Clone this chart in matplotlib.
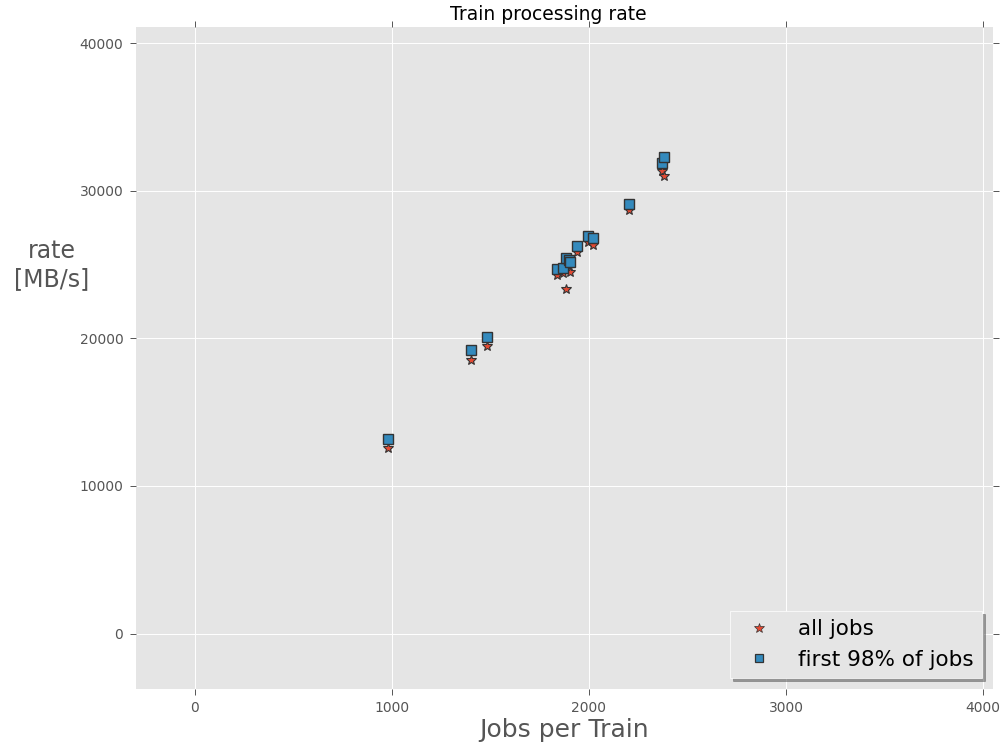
import matplotlib
matplotlib.use("Agg")
import matplotlib.pyplot as plt

# Data
jobs_per_train = [978, 1399, 1480, 1839, 1869, 1884, 1899, 1902, 1940, 1996, 2021, 2203, 2370, 2380]
rate_all_jobs = [12580, 18540, 19490, 24300, 24440, 23340, 24900, 24500, 25860, 26540, 26290, 28710, 31300, 30960]
rate_first98 = [13190, 19220, 20100, 24690, 24760, 25440, 25300, 25170, 26270, 26900, 26790, 29090, 31870, 32280]

plt.style.use("ggplot")
plt.rcParams['font.family'] = ['DejaVu Sans']

fig = plt.figure(figsize=(10.06, 7.44), dpi=100)
ax = fig.add_axes([0.135, 0.074, 0.852, 0.890])
ax.set_facecolor("#E5E5E5")
for s in ax.spines.values():
    s.set_visible(False)
ax.grid(True, color="white", linewidth=0.7)
ax.set_axisbelow(True)

ax.plot(jobs_per_train, rate_all_jobs, linestyle="none", marker="*", markersize=7,
        color="#E24A33", markeredgecolor="#333333", markeredgewidth=0.8, label="all jobs")
ax.plot(jobs_per_train, rate_first98, linestyle="none", marker="s", markersize=7,
        color="#348ABD", markeredgecolor="#333333", markeredgewidth=1.0, label="first 98% of jobs")

ax.set_xlim(-300, 4050)
ax.set_ylim(-3750, 41100)
ax.set_xticks([0, 1000, 2000, 3000, 4000])
ax.set_yticks([0, 10000, 20000, 30000, 40000])
ax.tick_params(axis="both", direction="out", colors="#555555", labelsize=10,
               top=True, right=True, labeltop=False, labelright=False,
               length=4, width=0.7, pad=5)
for t in ax.xaxis.get_ticklines() + ax.yaxis.get_ticklines():
    t.set_color("#888888")

ax.set_title("Train processing rate", fontsize=13.5, x=0.481, pad=5, color="black")
ax.set_xlabel("Jobs per Train", fontsize=18, color="#555555", labelpad=2)
ax.set_ylabel("rate\n[MB/s]", fontsize=17, color="#555555", rotation=0, ha="center", va="center")
ax.yaxis.set_label_coords(-0.098, 0.64)

leg = ax.legend(loc="lower right", fontsize=15.5, numpoints=1, shadow=True, fancybox=False,
                handlelength=1.95, handletextpad=0.85, borderaxespad=0.5, framealpha=1,
                markerscale=0.8, labelspacing=0.5, borderpad=0.38,
                bbox_to_anchor=(1.0, 0.0))
leg.get_frame().set_facecolor("#E5E5E5")
leg.get_frame().set_edgecolor("#FFFFFF")
h_star, h_sq = leg.legend_handles
h_star.set_markersize(7)
h_star.set_markeredgewidth(0.5)
h_sq.set_markeredgewidth(0.9)
for t in leg.get_texts():
    t.set_color("black")

fig.savefig("out.png", dpi=100)
